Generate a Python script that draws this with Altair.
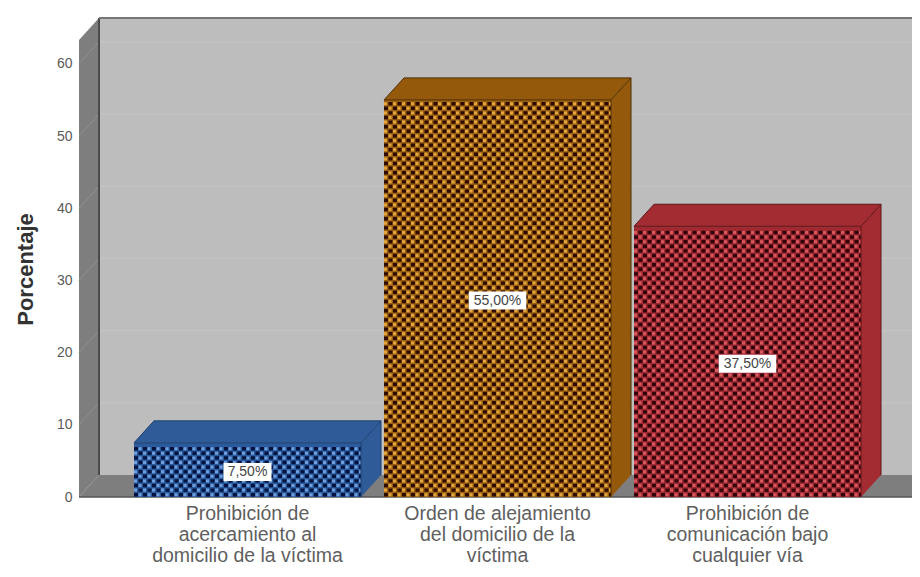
import altair as alt
import pandas as pd

categories = ["Prohibición de\nacercamiento al\ndomicilio de la víctima",
              "Orden de alejamiento\ndel domicilio de la\nvíctima",
              "Prohibición de\ncomunicación bajo\ncualquier vía"]
values = [7.5, 55.0, 37.5]
labels = ["7,50%", "55,00%", "37,50%"]
side_colors = ["#2f5c98", "#95590c", "#a32c33"]
mid_colors = ["#2a5a9c", "#9a6010", "#a02a32"]
dark_colors = ["#03133f", "#2e0b00", "#30040a"]
light_colors = ["#6f9fdc", "#e4a640", "#d8585f"]
edge_colors = ["#1d3f70", "#4f2f05", "#5e1519"]
y_ticks = [0, 10, 20, 30, 40, 50, 60]

PXX, PXY = 250.0, 7.22
BW = 227 / PXX
DX = 20 / PXX
DY = 22 / PXY
XMIN, XMAX = (79 - 247.5) / PXX, (912 - 247.5) / PXX
YMAX = 479 / PXY
WALL_L = XMIN + DX

xs = alt.Scale(domain=[XMIN, XMAX], nice=False, zero=False)
ys = alt.Scale(domain=[0, YMAX], nice=False, zero=False)
yaxis = alt.Axis(values=y_ticks, title="Porcentaje", grid=False, domain=False, ticks=False,
                 labelColor="#5a5a5a", labelFontSize=14, labelFont="Liberation Sans", labelPadding=7,
                 titleFont="Liberation Sans", titleFontSize=22, titleFontWeight="bold",
                 titleColor="#333333", titlePadding=19, titleY=251)
X = lambda f: alt.X(f, scale=xs, axis=None)
Y = lambda f: alt.Y(f, scale=ys, axis=yaxis)


def poly(rows, color):
    df = pd.DataFrame(rows, columns=["x", "lo", "hi"])
    return alt.Chart(df).mark_area(color=color, opacity=1, interpolate="linear").encode(
        x=X("x:Q"), y=Y("lo:Q"), y2="hi:Q")


def seg(rows, color, width):
    df = pd.DataFrame(rows, columns=["x", "y", "x2", "y2"])
    return alt.Chart(df).mark_rule(color=color, strokeWidth=width).encode(
        x=X("x:Q"), x2="x2:Q", y=Y("y:Q"), y2="y2:Q")


layers = [
    poly([(WALL_L, DY, YMAX), (XMAX, DY, YMAX)], "#bdbdbd"),
    seg([(WALL_L, t + DY, XMAX, t + DY) for t in y_ticks[1:]], "#c5c5c2", 1),
    poly([(XMIN, 0, YMAX - DY), (WALL_L, DY, YMAX)], "#7e7e7e"),
    seg([(XMIN, t, WALL_L, t + DY) for t in y_ticks[1:]], "#909090", 1),
    poly([(XMIN, 0, 0), (WALL_L, 0, DY), (XMAX, 0, DY)], "#7e7e7e"),
    seg([(WALL_L, DY, WALL_L, YMAX)], "#4a4a4a", 2),
    seg([(WALL_L, YMAX, XMAX, YMAX)], "#777777", 2),
    seg([(XMIN, 0, XMAX, 0)], "#555555", 1.5),
]

ROW = 4.6 / PXY
for i, v in enumerate(values):
    xl, xr = i - BW / 2, i + BW / 2
    layers.append(poly([(xr, 0, v), (xr + DX, DY, v + DY)], side_colors[i]))
    layers.append(poly([(xl, v, v), (xl + DX, v, v + DY), (xr, v, v + DY),
                        (xr + DX, v + DY, v + DY)], side_colors[i]))
    layers.append(poly([(xl, 0, v), (xr, 0, v)], mid_colors[i]))
    n = int(v / ROW)
    for odd in (0, 1):
        df = pd.DataFrame({"x": [xl] * n, "x2": [xr] * n,
                           "y": [(k + 0.5) * ROW for k in range(n)], "k": list(range(n))})
        df = df[df.k % 2 == odd]
        layers.append(alt.Chart(df).mark_rule(color=dark_colors[i], strokeWidth=3.4,
                                              strokeDash=[4, 5],
                                              strokeDashOffset=4.5 * odd).encode(
            x=X("x:Q"), x2="x2:Q", y=Y("y:Q")))
        layers.append(alt.Chart(df).mark_rule(color=light_colors[i], strokeWidth=3,
                                              strokeDash=[3, 6],
                                              strokeDashOffset=4.5 * odd + 4.5).encode(
            x=X("x:Q"), x2="x2:Q", y=Y("y:Q")))
    layers.append(seg([(xl, v, xr, v), (xl + DX, v + DY, xr + DX, v + DY),
                       (xl, v, xl + DX, v + DY), (xr, v, xr + DX, v + DY),
                       (xr + DX, DY, xr + DX, v + DY), (xr, 0, xr, v)],
                      edge_colors[i], 1))

box = pd.DataFrame({
    "x": [i - (len(t) * 9.6 / 2) / PXX for i, t in enumerate(labels)],
    "x2": [i + (len(t) * 9.6 / 2) / PXX for i, t in enumerate(labels)],
    "y": [v / 2 - 0.3 - 9 / PXY for v in values],
    "y2": [v / 2 - 0.3 + 9 / PXY for v in values],
    "xc": list(range(3)), "yc": [v / 2 - 0.3 for v in values], "t": labels})
layers.append(alt.Chart(box).mark_rect(color="#ffffff").encode(
    x=X("x:Q"), x2="x2:Q", y=Y("y:Q"), y2="y2:Q"))
layers.append(alt.Chart(box).mark_text(font="Liberation Sans", fontSize=14, color="#444444").encode(
    x=X("xc:Q"), y=Y("yc:Q"), text="t:N"))

cat = pd.DataFrame({"xc": list(range(3)), "y0": [0, 0, 0], "t": categories})
layers.append(alt.Chart(cat).mark_text(font="Liberation Sans", fontSize=19.5, color="#5f5f5f",
                                       lineBreak="\n", lineHeight=21, baseline="top", dy=8).encode(
    x=X("xc:Q"), y=Y("y0:Q"), text="t:N"))

chart = alt.layer(*layers).properties(
    width=833, height=479,
    padding={"left": 71, "top": 10, "right": 0, "bottom": 72},
    autosize=alt.AutoSizeParams(type="none"),
    background="#ffffff",
).configure_view(stroke=None)

chart.save("out.html", embed_options={"renderer": "svg", "actions": False})
